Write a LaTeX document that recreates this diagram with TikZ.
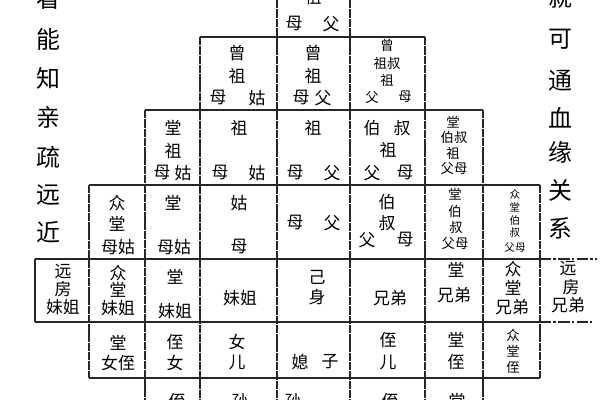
\documentclass[tikz,border=0pt]{standalone}
\usepackage{fontspec}
\newfontfamily\cjk{Noto Sans CJK SC}
\tikzstyle{zi} = [inner sep=0pt, font=\cjk\fontsize{12}{12}\selectfont]
\tikzstyle{zismall} = [inner sep=0pt, font=\cjk\fontsize{9.5}{10}\selectfont]
\tikzstyle{zitiny} = [inner sep=0pt, font=\cjk\fontsize{7.5}{8}\selectfont]
\tikzstyle{side} = [inner sep=0pt, font=\cjk\fontsize{17}{17}\selectfont]
\tikzstyle{tabline} = [line width=0.9pt, draw=black!85]
\tikzstyle{tabvline} = [tabline, dash pattern=on 6pt off 0.6pt]
\tikzstyle{tabext} = [tabline, dash pattern=on 8pt off 1.5pt on 2pt off 1.5pt]

\begin{document}
\begin{tikzpicture}[x=0.025cm, y=-0.025cm]

\clip (0,0) rectangle (600,400);
\fill[white] (0,0) rectangle (600,400);

% horizontal rules
\draw [tabline] (200,37) -- (425,37);
\draw [tabline] (145,110) -- (483,110);
\draw [tabline] (89,185) -- (540,185);
\draw [tabline] (35,259) -- (540,259);
\draw [tabext] (540,259) -- (597,259);
\draw [tabline] (35,322) -- (540,322);
\draw [tabext] (540,322) -- (592,322);
\draw [tabline] (89,378) -- (540,378);

% vertical rules
\draw [tabline] (35,259) -- (35,322);
\draw [tabvline] (89,185) -- (89,378);
\draw [tabvline] (145,110) -- (145,400);
\draw [tabvline] (200,37) -- (200,400);
\draw [tabvline] (277,0) -- (277,400);
\draw [tabvline] (350,0) -- (350,400);
\draw [tabvline] (425,37) -- (425,400);
\draw [tabvline] (483,110) -- (483,400);
\draw [tabvline] (540,185) -- (540,378);

% side texts
\node (l0)[side] at (48,-1) {看};
\node (l1)[side] at (48,39) {能};
\node (l2)[side] at (48,78) {知};
\node (l3)[side] at (48,117) {亲};
\node (l4)[side] at (48,157) {疏};
\node (l5)[side] at (48,195) {远};
\node (l6)[side] at (48,232) {近};

\node (r0)[side] at (560,-3) {就};
\node (r1)[side] at (560,39) {可};
\node (r2)[side] at (560,81) {通};
\node (r3)[side] at (560,118) {血};
\node (r4)[side] at (560,152) {缘};
\node (r5)[side] at (560,190) {关};
\node (r6)[side] at (560,228) {系};

% row 0
\node (gz)[zi] at (313,-3) {祖};
\node (gzm)[zi] at (294,24) {母};
\node (gzf)[zi] at (331,24) {父};

% row 1
\node (zgg1)[zi] at (237,53) {曾};
\node (zgg2)[zi] at (237,76) {祖};
\node (zggm)[zi] at (218,98) {母};
\node (zggg)[zi] at (257,98) {姑};

\node (zgf1)[zi] at (313,53) {曾};
\node (zgf2)[zi] at (313,76) {祖};
\node (zgfm)[zi] at (301,98) {母};
\node (zgff)[zi] at (323,98) {父};

\node (zgs1)[zismall] at (387,45) {曾};
\node (zgs2)[zismall] at (387,63) {祖叔};
\node (zgs3)[zismall] at (387,80) {祖};
\node (zgsf)[zismall] at (372,97) {父};
\node (zgsm)[zismall] at (405,97) {母};

% row 2
\node (tgg1)[zi] at (173,128) {堂};
\node (tgg2)[zi] at (173,151) {祖};
\node (tggm)[zi] at (162,173) {母};
\node (tggg)[zi] at (183,173) {姑};

\node (gg1)[zi] at (239,128) {祖};
\node (ggm)[zi] at (220,173) {母};
\node (ggg)[zi] at (257,173) {姑};

\node (gf1)[zi] at (313,128) {祖};
\node (gfm)[zi] at (295,173) {母};
\node (gff)[zi] at (332,173) {父};

\node (bsg1)[zi] at (372,128) {伯};
\node (bsg2)[zi] at (402,128) {叔};
\node (bsg3)[zi] at (388,150) {祖};
\node (bsgf)[zi] at (372,173) {父};
\node (bsgm)[zi] at (405,173) {母};

\node (tbsg1)[zismall] at (453,122) {堂};
\node (tbsg2)[zismall] at (454,137) {伯叔};
\node (tbsg3)[zismall] at (453,153) {祖};
\node (tbsg4)[zismall] at (454,168) {父母};

% row 3
\node (ztg1)[zi] at (117,203) {众};
\node (ztg2)[zi] at (117,224) {堂};
\node (ztg3)[zi] at (118,247) {母姑};

\node (tg1)[zi] at (173,203) {堂};
\node (tg2)[zi] at (174,247) {母姑};

\node (gu1)[zi] at (239,203) {姑};
\node (gu2)[zi] at (239,247) {母};

\node (fm)[zi] at (295,223) {母};
\node (ff)[zi] at (332,223) {父};

\node (bs1)[zi] at (387,202) {伯};
\node (bs2)[zi] at (387,223) {叔};
\node (bsf)[zi] at (367,240) {父};
\node (bsm)[zi] at (405,240) {母};

\node (tbs1)[zismall] at (455,194) {堂};
\node (tbs2)[zismall] at (455,211) {伯};
\node (tbs3)[zismall] at (456,227) {叔};
\node (tbs4)[zismall] at (455,243) {父母};

\node (ztbs1)[zitiny] at (515,194) {众};
\node (ztbs2)[zitiny] at (515,207) {堂};
\node (ztbs3)[zitiny] at (515,220) {伯};
\node (ztbs4)[zitiny] at (515,233) {叔};
\node (ztbs5)[zitiny] at (515,248) {父母};

% row 4
\node (yfm1)[zi] at (63,272) {远};
\node (yfm2)[zi] at (63,289) {房};
\node (yfm3)[zi] at (63,307) {妹姐};

\node (ztm1)[zi] at (118,273) {众};
\node (ztm2)[zi] at (118,290) {堂};
\node (ztm3)[zi] at (118,308) {妹姐};

\node (tm1)[zi] at (175,277) {堂};
\node (tm2)[zi] at (175,311) {妹姐};

\node (mj)[zi] at (240,298) {妹姐};

\node (self1)[zi] at (317,277) {己};
\node (self2)[zi] at (317,297) {身};

\node (xd)[zi] at (390,298) {兄弟};

\node (txd1)[zi] at (456,270) {堂};
\node (txd2)[zi] at (454,295) {兄弟};

\node (ztxd1)[zi] at (513,269) {众};
\node (ztxd2)[zi] at (513,288) {堂};
\node (ztxd3)[zi] at (512,307) {兄弟};

\node (yfx1)[zi] at (568,269) {远};
\node (yfx2)[zi] at (571,287) {房};
\node (yfx3)[zi] at (568,305) {兄弟};

% row 5
\node (tnz1)[zi] at (118,343) {堂};
\node (tnz2)[zi] at (118,363) {女侄};

\node (zn1)[zi] at (175,342) {侄};
\node (zn2)[zi] at (175,363) {女};

\node (ne1)[zi] at (237,342) {女};
\node (ne2)[zi] at (237,362) {儿};

\node (xf)[zi] at (300,362) {媳};
\node (zz)[zi] at (330,362) {子};

\node (ze1)[zi] at (388,340) {侄};
\node (ze2)[zi] at (388,362) {儿};

\node (tz1)[zi] at (456,340) {堂};
\node (tz2)[zi] at (456,362) {侄};

\node (ztz1)[zismall] at (513,335) {众};
\node (ztz2)[zismall] at (513,351) {堂};
\node (ztz3)[zismall] at (513,367) {侄};

% row 6
\node (b1)[zi] at (177,401) {侄};
\node (b2)[zi] at (240,401) {孙};
\node (b3)[zi] at (293,401) {孙};
\node (b4)[zi] at (390,401) {侄};
\node (b5)[zi] at (457,401) {堂};

\end{tikzpicture}
\end{document}
